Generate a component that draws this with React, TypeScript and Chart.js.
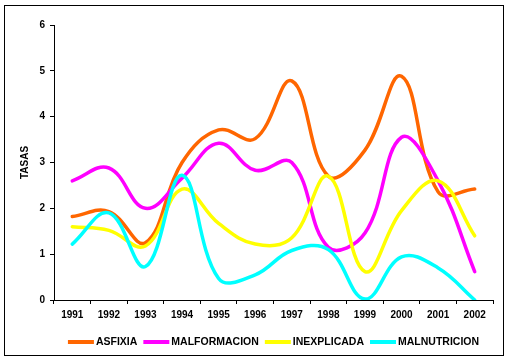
import React, { useEffect, useRef } from "react";
import { Chart, registerables } from "chart.js";

Chart.register(...registerables);

const categories = ["1991", "1992", "1993", "1994", "1995", "1996", "1997", "1998", "1999", "2000", "2001", "2002"];
const asfixia = [1.82, 1.93, 1.25, 3.0, 3.71, 3.52, 4.78, 2.7, 3.27, 4.88, 2.36, 2.42];
const malformacion = [2.6, 2.88, 2.0, 2.66, 3.42, 2.83, 3.0, 1.15, 1.46, 3.55, 2.6, 0.62];
const inexplicada = [1.6, 1.52, 1.18, 2.42, 1.67, 1.22, 1.36, 2.7, 0.62, 1.95, 2.6, 1.4];
const malnutricion = [1.22, 1.9, 0.73, 2.72, 0.47, 0.55, 1.08, 1.1, 0.02, 0.94, 0.7, 0.0];
const seriesNames = ["ASFIXIA", "MALFORMACION", "INEXPLICADA", "MALNUTRICION"];
const seriesColors = ["#FF6600", "#FF00FF", "#FFFF00", "#00FFFF"];
const yTicks = [0, 1, 2, 3, 4, 5, 6];

const FONT_FAMILY = "'Liberation Sans', Arial, sans-serif";

const legendPlugin = {
  id: "customLegend",
  afterDraw(chart: any) {
    const ctx = chart.ctx;
    const area = chart.chartArea;
    ctx.save();
    ctx.font = `bold 10.5px ${FONT_FAMILY}`;
    const lineLen = 26;
    const gapLT = 2;
    const gapItem = 6;
    const items = chart.data.datasets.map((d: any) => ({
      label: d.label,
      color: d.borderColor,
      w: ctx.measureText(d.label).width,
    }));
    let total = 0;
    items.forEach((it: any, i: number) => {
      total += lineLen + gapLT + it.w + (i < items.length - 1 ? gapItem : 0);
    });
    let x = (area.left + area.right) / 2 - total / 2;
    const y = 342;
    ctx.textBaseline = "middle";
    ctx.textAlign = "left";
    items.forEach((it: any) => {
      ctx.strokeStyle = it.color;
      ctx.lineWidth = 4;
      ctx.beginPath();
      ctx.moveTo(x, y);
      ctx.lineTo(x + lineLen, y);
      ctx.stroke();
      x += lineLen + gapLT;
      ctx.fillStyle = "#000";
      ctx.fillText(it.label, x, y + 0.5);
      x += it.w + gapItem;
    });
    ctx.restore();
  },
};

export default function App() {
  const canvasRef = useRef<HTMLCanvasElement | null>(null);

  useEffect(() => {
    if (!canvasRef.current) return;
    const values = [asfixia, malformacion, inexplicada, malnutricion];
    const font = { family: FONT_FAMILY, size: 10, weight: "bold" as const };
    const chart = new Chart(canvasRef.current, {
      type: "line",
      data: {
        labels: categories,
        datasets: values.map((v, i) => ({
          label: seriesNames[i],
          data: v,
          borderColor: seriesColors[i],
          backgroundColor: seriesColors[i],
          borderWidth: 3.5,
          pointRadius: 0,
          tension: 0.4,
          fill: false,
          order: -i,
          borderCapStyle: "round" as const,
          borderJoinStyle: "round" as const,
        })),
      },
      options: {
        animation: false,
        responsive: false,
        maintainAspectRatio: false,
        layout: { padding: { left: 0, right: 17, top: 25, bottom: 0 } },
        plugins: {
          legend: { display: false },
          tooltip: { enabled: false },
        },
        scales: {
          x: {
            type: "category",
            offset: true,
            grid: {
              offset: true,
              drawOnChartArea: false,
              drawTicks: true,
              tickLength: 4,
              color: "#000",
            },
            border: { display: true, color: "#000", width: 1 },
            ticks: {
              color: "#000",
              font,
              padding: 5,
              maxRotation: 0,
              autoSkip: false,
            },
            afterFit: (s: any) => {
              s.height = 61;
            },
          },
          y: {
            min: 0,
            max: 6,
            afterBuildTicks: (s: any) => {
              s.ticks = yTicks.map((v) => ({ value: v }));
            },
            grid: {
              drawOnChartArea: false,
              drawTicks: true,
              tickLength: 4,
              color: "#000",
            },
            border: { display: true, color: "#000", width: 1 },
            ticks: {
              color: "#000",
              font,
              padding: 5,
            },
            title: {
              display: true,
              text: "TASAS",
              color: "#000",
              font,
              padding: { top: 19, bottom: 0 },
            },
            afterFit: (s: any) => {
              s.width = 54;
            },
          },
        },
      },
      plugins: [legendPlugin],
    });
    return () => chart.destroy();
  }, []);

  return (
    <div style={{ position: "absolute", left: 0, top: 0, width: 510, height: 361, background: "#fff" }}>
      <canvas ref={canvasRef} width={510} height={361} style={{ position: "absolute", left: 0, top: 0, width: 510, height: 361 }} />
      <div
        style={{
          position: "absolute",
          left: 4,
          top: 5,
          width: 498,
          height: 349,
          border: "1px solid #000",
          pointerEvents: "none",
        }}
      />
    </div>
  );
}
